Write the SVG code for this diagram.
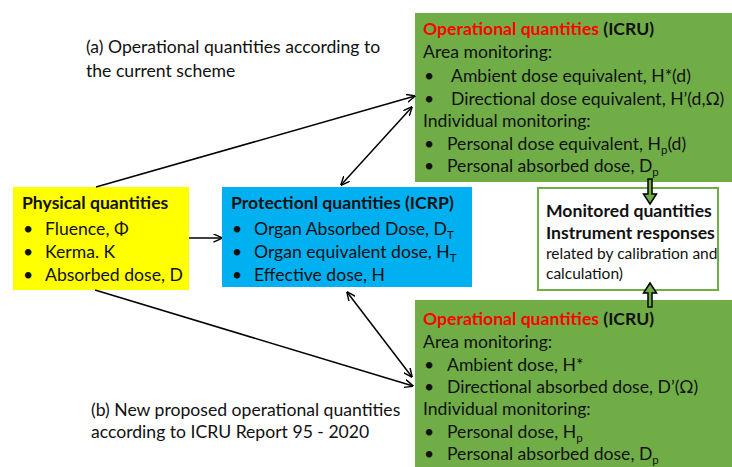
<svg xmlns="http://www.w3.org/2000/svg" width="732" height="467" viewBox="0 0 732 467">
<defs>
<marker id="ah" viewBox="0 0 10 10" refX="9.5" refY="5" markerWidth="9" markerHeight="9" markerUnits="userSpaceOnUse" orient="auto-start-reverse">
<path d="M0,0.5 L10,5 L0,9.5" fill="none" stroke="#000" stroke-width="1.6"/>
</marker>
<style>
text{font-family:Lato,"Liberation Sans",sans-serif;font-size:17.6px;fill:#111}
.b{font-weight:bold}
.r{fill:#ff0000}
.s{font-size:11.5px}
.sm{font-size:15.5px}
.c line{stroke:#000;stroke-width:1.5}
.blk{fill:#70ad47;stroke:#000;stroke-width:1.5}
</style>
</defs>
<rect width="732" height="467" fill="#fff"/>

<g id="label-a">
<text x="86" y="53">(a) Operational quantities according to</text>
<text x="86" y="77">the current scheme</text>
</g>
<g id="label-b">
<text x="91" y="416">(b) New proposed operational quantities</text>
<text x="91" y="438">according to ICRU Report 95 - 2020</text>
</g>

<g id="physical">
<rect x="13" y="187" width="176" height="103" fill="#ffff00"/>
<text x="22" y="209" class="b">Physical quantities</text>
<text x="23" y="235">•</text><text x="45" y="235">Fluence, Φ</text>
<text x="23" y="258">•</text><text x="45" y="258">Kerma. K</text>
<text x="23" y="281">•</text><text x="45" y="281">Absorbed dose, D</text>
</g>

<g id="protection">
<rect x="222" y="187" width="250" height="100" fill="#00b0f0"/>
<text x="231" y="209" class="b">Protectionl quantities (ICRP)</text>
<text x="232" y="235">•</text><text x="254" y="235">Organ Absorbed Dose,  D<tspan class="s" dy="3.5">T</tspan></text>
<text x="232" y="258">•</text><text x="254" y="258">Organ equivalent dose, H<tspan class="s" dy="3.5">T</tspan></text>
<text x="232" y="281">•</text><text x="254" y="281">Effective dose, H</text>
</g>

<g id="operational-current">
<rect x="415" y="13" width="317" height="169" fill="#70ad47"/>
<text x="423" y="35" class="b"><tspan class="r">Operational quantities</tspan> (ICRU)</text>
<text x="423" y="58">Area monitoring:</text>
<text x="424" y="82">•</text><text x="451" y="82">Ambient dose equivalent, H*(d)</text>
<text x="424" y="105">•</text><text x="451" y="105">Directional dose equivalent, H’(d,Ω)</text>
<text x="423" y="127">Individual monitoring:</text>
<text x="424" y="150">•</text><text x="447" y="150">Personal dose equivalent, H<tspan class="s" dy="3.5">p</tspan><tspan dy="-3.5">(d)</tspan></text>
<text x="424" y="172">•</text><text x="447" y="172">Personal absorbed dose, D<tspan class="s" dy="3.5">p</tspan></text>
</g>

<g id="operational-new">
<rect x="415" y="300" width="317" height="167" fill="#70ad47"/>
<text x="423" y="325" class="b"><tspan class="r">Operational quantities</tspan> (ICRU)</text>
<text x="423" y="348">Area monitoring:</text>
<text x="424" y="371">•</text><text x="447" y="371">Ambient dose, H*</text>
<text x="424" y="393">•</text><text x="447" y="393">Directional absorbed dose, D’(Ω)</text>
<text x="423" y="415">Individual monitoring:</text>
<text x="424" y="438">•</text><text x="447" y="438">Personal dose, H<tspan class="s" dy="3.5">p</tspan></text>
<text x="424" y="460">•</text><text x="447" y="460">Personal absorbed dose, D<tspan class="s" dy="3.5">p</tspan></text>
</g>

<g id="monitored">
<rect x="538" y="188" width="180" height="102" fill="#fff" stroke="#70ad47" stroke-width="2"/>
<text x="546" y="217" class="b">Monitored quantities</text>
<text x="546" y="239" class="b">Instrument responses</text>
<text x="546" y="259" class="sm">related by calibration and</text>
<text x="546" y="279" class="sm">calculation)</text>
</g>

<g id="connectors" class="c">
<line x1="96" y1="187" x2="415" y2="96" marker-end="url(#ah)"/>
<line x1="341" y1="185" x2="412" y2="107" marker-start="url(#ah)" marker-end="url(#ah)"/>
<line x1="189" y1="238" x2="222" y2="238" marker-end="url(#ah)"/>
<line x1="95" y1="290" x2="413" y2="386" marker-end="url(#ah)"/>
<line x1="347" y1="292" x2="412" y2="377" marker-start="url(#ah)" marker-end="url(#ah)"/>
<path class="blk" d="M648,179 H652 V194 H656.5 L650,204 L643.5,194 H648 Z"/>
<path class="blk" d="M648,307 H652 V293 H656.5 L650,283 L643.5,293 H648 Z"/>
</g>
</svg>
